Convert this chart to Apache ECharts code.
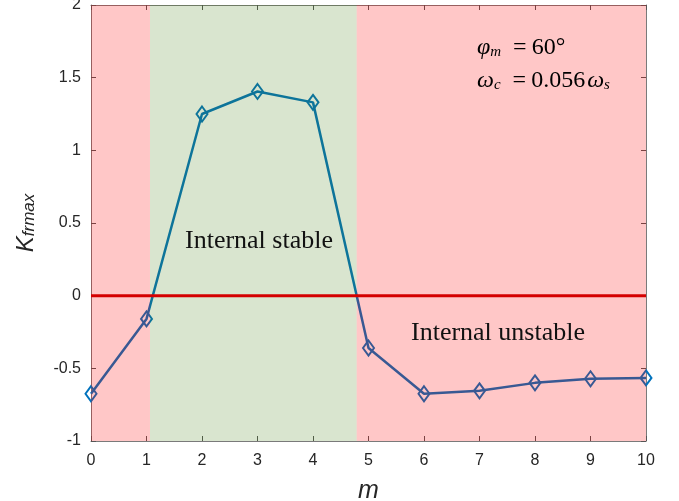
<!DOCTYPE html>
<html>
<head>
<meta charset="utf-8">
<script src="https://cdn.jsdelivr.net/npm/echarts@6/dist/echarts.min.js"></script>
<style>html,body{margin:0;padding:0;background:#fff}#c{width:679px;height:501px}</style>
</head>
<body>
<div id="c"></div>
<script>
// m values and the maximum frequency-response coefficient
const mValues = [0, 1, 2, 3, 4, 5, 6, 7, 8, 9, 10];
const kfrmax = [-0.675, -0.16, 1.25, 1.405, 1.33, -0.36, -0.675, -0.655, -0.6, -0.572, -0.566];
// stability regions along m: [start, end, kind]
const regions = [[0, 1.063, 'unstable'], [1.063, 4.787, 'stable'], [4.787, 10, 'unstable']];
const xTicks = [0, 1, 2, 3, 4, 5, 6, 7, 8, 9, 10];
const yTicks = [-1, -0.5, 0, 0.5, 1, 1.5, 2];

const regionColor = { unstable: 'rgba(255,0,0,0.22)', stable: 'rgba(65,125,15,0.2)' };
const axisColor = '#7a7a7a';
const labelStyle = { color: '#262626', fontSize: 16, fontFamily: 'Liberation Sans' };

function boxAxis(extra) {
  return Object.assign({
    axisLine: { show: true, onZero: false, lineStyle: { color: axisColor, width: 1 } },
    axisTick: { show: true, inside: true, length: 5, lineStyle: { color: '#555' } },
    splitLine: { show: false }
  }, extra);
}

const mathRich = {
  v: { fontSize: 24, fontStyle: 'italic', fontFamily: 'Liberation Serif', color: '#111', verticalAlign: 'bottom', lineHeight: 28 },
  w: { fontSize: 24, fontStyle: 'italic', fontFamily: 'Liberation Serif', color: '#111', verticalAlign: 'bottom', lineHeight: 28, padding: [0, 0, 0, 2] },
  sub: { fontSize: 15, fontStyle: 'italic', fontFamily: 'Liberation Serif', color: '#111', verticalAlign: 'bottom', lineHeight: 20 },
  eq: { fontSize: 24, fontFamily: 'Liberation Serif', color: '#111', verticalAlign: 'bottom', lineHeight: 28, padding: [0, 5, 0, 12] },
  t: { fontSize: 24, fontFamily: 'Liberation Serif', color: '#111', verticalAlign: 'bottom', lineHeight: 28 }
};

const chart = echarts.init(document.getElementById('c'));
chart.setOption({
  animation: false,
  grid: { left: 91, right: 33, top: 5, bottom: 60, show: false, containLabel: false, outerBoundsMode: 'none' },
  xAxis: [
    boxAxis({
      type: 'value', min: 0, max: 10, interval: 1,
      axisLabel: Object.assign({ margin: 12, formatter: v => xTicks.includes(v) ? String(v) : '' }, labelStyle),
      name: 'm', nameLocation: 'middle', nameGap: 38,
      nameTextStyle: { fontSize: 25, fontStyle: 'italic', fontFamily: 'Liberation Sans', color: '#262626' }
    }),
    boxAxis({ type: 'value', position: 'top', min: 0, max: 10, interval: 1, axisLabel: { show: false } })
  ],
  yAxis: [
    boxAxis({
      type: 'value', min: -1, max: 2, interval: 0.5,
      axisLabel: Object.assign({ margin: 10, formatter: v => yTicks.includes(v) ? String(v) : '' }, labelStyle),
      name: '{k|K}{s|frmax}', nameLocation: 'middle', nameGap: 53, nameRotate: 90,
      nameTextStyle: {
        color: '#262626',
        rich: {
          k: { fontSize: 24, fontStyle: 'italic', fontFamily: 'Liberation Sans', color: '#262626', verticalAlign: 'bottom', lineHeight: 30 },
          s: { fontSize: 17, fontStyle: 'italic', fontFamily: 'Liberation Sans', color: '#262626', verticalAlign: 'bottom', lineHeight: 22 }
        }
      }
    }),
    boxAxis({ type: 'value', position: 'right', min: -1, max: 2, interval: 0.5, axisLabel: { show: false } })
  ],
  series: [
    {
      name: 'Kfrmax', type: 'line', z: 2, clip: false,
      data: mValues.map((m, i) => [m, kfrmax[i]]),
      symbol: 'diamond', symbolSize: [11, 15], showSymbol: true,
      lineStyle: { color: '#0072BD', width: 2.5 },
      itemStyle: { color: 'rgba(0,0,0,0)', borderColor: '#0072BD', borderWidth: 2 }
    },
    {
      name: 'regions', type: 'custom', z: 5, silent: true,
      data: regions.map(r => [r[0], r[1]]),
      renderItem: function (params, api) {
        const p0 = api.coord([api.value(0), 2]);
        const p1 = api.coord([api.value(1), -1]);
        const kind = regions[params.dataIndex][2];
        return {
          type: 'rect',
          shape: { x: p0[0], y: p0[1], width: p1[0] - p0[0], height: p1[1] - p0[1] },
          style: { fill: regionColor[kind] }
        };
      },
      encode: { x: [0, 1] }
    },
    {
      name: 'zero', type: 'line', z: 8, silent: true,
      data: [[0, 0], [10, 0]], symbol: 'none',
      lineStyle: { color: '#d40000', width: 3 }
    }
  ],
  graphic: [
    { type: 'text', left: 185, top: 228, z: 20,
      style: { text: 'Internal stable', fontSize: 26, fontFamily: 'Liberation Serif', fill: '#111' } },
    { type: 'text', left: 411, top: 320, z: 20,
      style: { text: 'Internal unstable', fontSize: 26, fontFamily: 'Liberation Serif', fill: '#111' } },
    { type: 'text', left: 477, top: 36, z: 20,
      style: { text: '{v|φ}{sub|m}{eq|=}{t|60°}', rich: mathRich } },
    { type: 'text', left: 477, top: 69, z: 20,
      style: { text: '{v|ω}{sub|c}{eq|=}{t|0.056}{w|ω}{sub|s}', rich: mathRich } }
  ]
});
</script>
</body>
</html>
